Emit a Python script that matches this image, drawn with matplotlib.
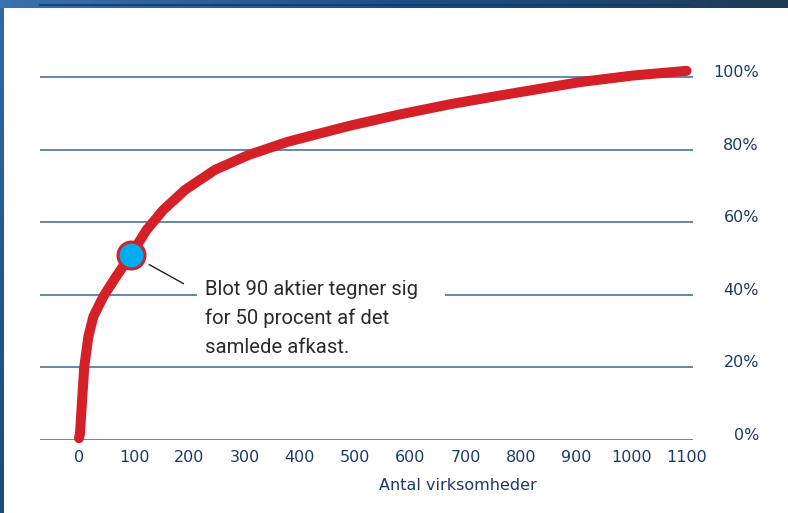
import matplotlib.pyplot as plt
from matplotlib.colors import LinearSegmentedColormap
import numpy as np

# antal virksomheder vs. andel af samlet afkast (%)
antal = [0, 1.8, 6, 9.6, 17, 26, 44, 65, 94, 122.5, 152.7, 192, 246, 306.6,
         379, 450, 491, 581, 672, 762, 907, 1003, 1100]
andel = [0.5, 1.8, 11.9, 20.2, 28.5, 34, 39.5, 44.5, 51, 57.9, 63.4, 68.9, 74.4, 78.5,
         82.2, 85.0, 86.6, 89.7, 92.5, 94.9, 98.6, 100.4, 101.7]

punkt_x = 94
punkt_y = 51

x_ticks = list(range(0, 1101, 100))
y_ticks = [0, 20, 40, 60, 80, 100]
y_labels = [f'{v}%' for v in y_ticks]

tekst_linjer = ['Blot 90 aktier tegner sig', 'for 50 procent af det', 'samlede afkast.']

navy = '#1b3a6b'
rod = '#d52027'

fig = plt.figure(figsize=(7.88, 5.13), dpi=100)
fig.patch.set_facecolor('white')

# ramme: blå bjælke foroven og til venstre
top = fig.add_axes([0, 1 - 8 / 513, 1, 8 / 513])
top.imshow(np.linspace(0, 1, 256).reshape(1, -1), aspect='auto',
           cmap=LinearSegmentedColormap.from_list('t', ['#3a72ad', '#1c4f86', '#1f3b58']))
top.axhline(0.1, xmin=40 / 788, xmax=690 / 788, color='#0d3c6e', lw=1.2)
top.set_axis_off()
left = fig.add_axes([0, 0, 4 / 788, 1 - 8 / 513])
left.imshow(np.linspace(0, 1, 256).reshape(-1, 1), aspect='auto',
            cmap=LinearSegmentedColormap.from_list('l', ['#2e6aa6', '#1b4a7c']))
left.set_axis_off()

ax = fig.add_axes([40 / 788, 73 / 513, 653 / 788, 399.3 / 513])
ax.set_xlim(-70.6, 1111.7)
ax.set_ylim(0, 110)

for s in ax.spines.values():
    s.set_visible(False)

ax.set_yticks(y_ticks)
ax.set_yticklabels(y_labels)
ax.grid(axis='y', color='#4a72a2', lw=1.2, zorder=1)
ax.yaxis.tick_right()
ax.tick_params(axis='y', length=0, pad=47.5, labelsize=11.5, labelcolor=navy)
for lab in ax.get_yticklabels():
    lab.set_ha('right')
    lab.set_va('baseline')

ax.set_xticks(x_ticks)
ax.tick_params(axis='x', length=0, pad=7, labelsize=11.5, labelcolor=navy)
ax.set_xlabel('Antal virksomheder', fontsize=11.5, color=navy)
ax.xaxis.set_label_coords(0.640, -0.1127)
ax.xaxis.label.set_va('center')

# hvid plads bag teksten, så gitterlinjen brydes
ax.add_patch(plt.Rectangle((213.6, 35), 449, 11, facecolor='white', edgecolor='none', zorder=2))

ax.plot(antal, andel, color=rod, lw=7.2, solid_capstyle='round', solid_joinstyle='round',
        zorder=3, clip_on=False)
ax.plot([punkt_x], [punkt_y], 'o', ms=19.4, mfc='#00aeef', mec=rod, mew=2.2, zorder=4, clip_on=False)

ax.annotate('', xy=(122.6, 48.7), xytext=(193.7, 42.7),
            arrowprops=dict(arrowstyle='-', color='#231f20', lw=1.0), zorder=4)

tekster = []
for i, linje in enumerate(tekst_linjer):
    t = ax.text(228, 39.9 - 8 * i, linje, ha='left', va='baseline', fontsize=16,
                color='#2b2b2b', family=['Roboto', 'DejaVu Sans'], fontstretch='condensed', zorder=5)
    tekster.append(t)

# skaler teksten ned, så første linje får omtrent samme bredde som i originalen
fig.canvas.draw()
bredde = tekster[0].get_window_extent(fig.canvas.get_renderer()).width
if bredde > 214:
    for t in tekster:
        t.set_fontsize(16 * 214 / bredde)

plt.savefig('out.png', dpi=100)
plt.close()
